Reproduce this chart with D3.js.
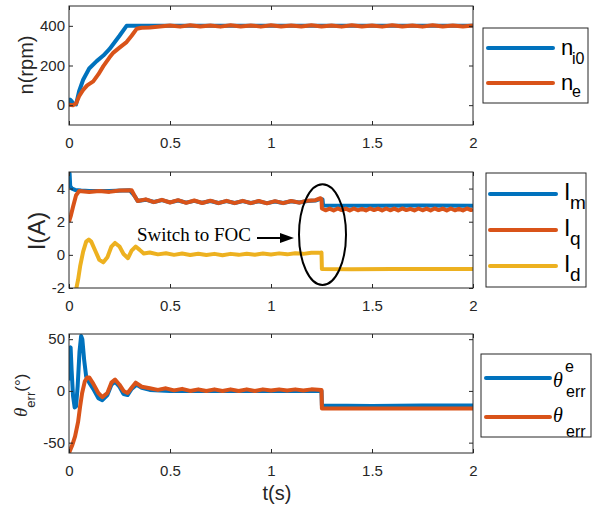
<!DOCTYPE html>
<meta charset="utf-8">
<style>
    html, body {
        margin: 0;
        padding: 0;
        background: #fff;
    }
    svg {
        display: block;
    }
</style>
<svg id="chart" width="605" height="508"></svg>
<script src="https://d3js.org/d3.v7.js"></script>
<script>
    // tick values
    const xTicks = [0, 0.5, 1, 1.5, 2];
    const speedTicks = [0, 200, 400];
    const currentTicks = [-2, 0, 2, 4];
    const angleTicks = [-50, 0, 50];

    // speed (rpm): [t, value]
    const nI0 = [[0,5],[0.006,28],[0.012,22],[0.02,8],[0.035,4],[0.05,70],[0.07,128],[0.1,185],[0.137,222],
        [0.17,250],[0.2,282],[0.25,350],[0.285,400],[2,400]];
    const nE = [[0,2],[0.02,0],[0.035,8],[0.05,45],[0.07,77],[0.09,100],[0.12,120],[0.145,155],[0.17,197],
        [0.2,240],[0.22,265],[0.25,290],[0.285,318],[0.31,350],[0.335,385],[0.36,390],[0.4,392],[0.45,397],
        [0.5,402],[0.55,396],[0.6,403],[0.65,397],[0.7,402],[0.75,396],[0.8,403],[0.85,397],[0.9,402],
        [0.95,396],[1.0,403],[1.05,397],[1.1,402],[1.15,397],[1.2,403],[1.25,397],[1.3,402],[1.35,396],
        [1.4,403],[1.45,397],[1.5,402],[1.55,396],[1.6,403],[1.65,397],[1.7,402],[1.75,396],[1.8,403],
        [1.85,397],[1.9,402],[1.95,397],[2.0,402]];

    // currents (A)
    const iM = [[0,5.0],[0.003,4.9],[0.006,4.15],[0.015,4.0],[0.03,3.92],[0.06,3.88],[0.1,3.85],[0.2,3.85],
        [0.3,3.9],[0.325,3.55],[0.34,3.25],[0.38,3.33],[0.42,3.19],[0.46,3.3],[0.5,3.17],[0.54,3.28],
        [0.58,3.15],[0.62,3.26],[0.66,3.14],[0.7,3.25],[0.74,3.13],[0.78,3.24],[0.82,3.13],[0.86,3.24],
        [0.9,3.13],[0.94,3.23],[0.98,3.12],[1.02,3.22],[1.06,3.13],[1.1,3.23],[1.14,3.16],[1.18,3.25],
        [1.22,3.28],[1.245,3.38],[1.255,3.35],[1.258,2.98],[1.5,2.97],[1.75,2.98],[2,2.97]];
    const iQ = [[0,2.0],[0.01,2.4],[0.02,2.9],[0.035,3.6],[0.05,3.85],[0.1,3.8],[0.15,3.85],[0.2,3.8],
        [0.25,3.88],[0.31,3.9],[0.325,3.55],[0.34,3.25],[0.38,3.35],[0.42,3.18],[0.46,3.32],[0.5,3.16],
        [0.54,3.3],[0.58,3.14],[0.62,3.28],[0.66,3.13],[0.7,3.27],[0.74,3.12],[0.78,3.26],[0.82,3.12],
        [0.86,3.26],[0.9,3.12],[0.94,3.25],[0.98,3.11],[1.02,3.24],[1.06,3.12],[1.1,3.25],[1.14,3.15],
        [1.18,3.27],[1.22,3.3],[1.245,3.42],[1.25,3.35],[1.252,2.8],[1.27,2.69],[1.29,2.79],[1.31,2.68],
        [1.33,2.8],[1.35,2.7],[1.37,2.79],[1.39,2.68],[1.41,2.8],[1.43,2.69],[1.45,2.78],[1.47,2.68],
        [1.49,2.8],[1.51,2.7],[1.53,2.79],[1.55,2.68],[1.57,2.8],[1.59,2.69],[1.61,2.79],[1.63,2.68],
        [1.65,2.8],[1.67,2.7],[1.69,2.78],[1.71,2.68],[1.73,2.8],[1.75,2.69],[1.77,2.79],[1.79,2.68],
        [1.81,2.8],[1.83,2.7],[1.85,2.79],[1.87,2.68],[1.89,2.8],[1.91,2.69],[1.93,2.78],[1.95,2.68],
        [1.97,2.8],[1.99,2.7],[2,2.75]];
    const iD = [[0.035,-2.1],[0.045,-1.5],[0.055,-0.7],[0.07,0.2],[0.085,0.8],[0.098,0.92],[0.11,0.8],
        [0.13,0.25],[0.15,-0.3],[0.17,-0.45],[0.19,-0.15],[0.21,0.5],[0.228,0.72],[0.25,0.5],[0.27,0.05],
        [0.292,-0.2],[0.31,0.25],[0.33,0.5],[0.35,0.3],[0.37,0.08],[0.4,0.14],[0.44,0.03],[0.48,0.1],
        [0.52,0.0],[0.56,0.08],[0.6,-0.01],[0.64,0.07],[0.68,-0.01],[0.72,0.06],[0.76,-0.02],[0.8,0.06],
        [0.84,0.0],[0.88,0.07],[0.92,0.01],[0.96,0.08],[1.0,0.02],[1.04,0.09],[1.08,0.03],[1.12,0.1],
        [1.16,0.06],[1.2,0.13],[1.24,0.12],[1.25,0.14],[1.252,-0.85],[1.4,-0.87],[1.6,-0.85],[1.8,-0.86],
        [2,-0.85]];

    // angle error (deg)
    const thEst = [[0,10],[0.003,40],[0.008,42],[0.013,20],[0.02,-5],[0.028,-16],[0.035,-15],[0.043,5],
        [0.052,38],[0.06,53],[0.066,50],[0.075,30],[0.085,14],[0.1,8],[0.12,2],[0.145,-7],[0.165,-9],
        [0.19,-4],[0.21,6],[0.228,9],[0.25,4],[0.27,-3],[0.29,-4],[0.31,2],[0.335,6],[0.36,3],[0.4,1],
        [0.5,0],[0.6,0],[0.7,0],[0.8,0],[0.9,0],[1.0,0],[1.1,0],[1.2,0],[1.25,0],[1.252,-14],[1.5,-14.5],
        [1.75,-14],[2,-14]];
    const thErr = [[0,-60],[0.015,-53],[0.03,-44],[0.045,-30],[0.055,-15],[0.065,-2],[0.078,9],[0.09,13],
        [0.1,13],[0.12,7],[0.145,-2],[0.165,-6],[0.19,-2],[0.21,8],[0.228,11],[0.25,6],[0.27,0],[0.29,-2],
        [0.31,3],[0.33,8],[0.36,4],[0.4,2.5],[0.44,1],[0.48,2.5],[0.52,0.5],[0.56,2],[0.6,0],[0.64,1.5],
        [0.68,0],[0.72,1.5],[0.76,0],[0.8,1.5],[0.84,0],[0.88,1.5],[0.92,0],[0.96,1.5],[1.0,0.5],
        [1.04,1.5],[1.08,0.5],[1.12,1.5],[1.16,0.5],[1.2,1.5],[1.25,1],[1.252,-17],[1.5,-17],[1.75,-17],
        [2,-17]];

    const blue = "#0072BD", orange = "#D95319", yellow = "#EDB120";
    const axisColor = "#262626";
    const sans = "'Liberation Sans', Arial, Helvetica, sans-serif";
    const serif = "'Liberation Serif', 'Times New Roman', serif";

    let svg = d3.select("#chart");
    let defs = svg.append("defs");

    let x = d3.scaleLinear([0, 2], [69, 473]);

    function drawPanel(name, y, yTicks, series) {
        let [y0, y1] = y.range();
        let g = svg.append("g");

        defs.append("clipPath").attr("id", "clip-" + name)
            .append("rect")
            .attr("x", x(0)).attr("y", y1)
            .attr("width", x(2) - x(0)).attr("height", y0 - y1);

        let line = d3.line().x(d => x(d[0])).y(d => y(d[1]));

        g.append("g")
            .attr("clip-path", "url(#clip-" + name + ")")
            .selectAll("path")
            .data(series)
            .join("path")
            .attr("d", s => line(s.values))
            .attr("fill", "none")
            .attr("stroke", s => s.color)
            .attr("stroke-width", 4)
            .attr("stroke-linejoin", "round");

        let fmt = d => String(d);

        // bottom + left with labels, top + right ticks only (MATLAB box)
        let axes = [
            [d3.axisBottom(x).tickValues(xTicks).tickFormat(fmt).tickPadding(12), `translate(0,${y0})`],
            [d3.axisTop(x).tickValues(xTicks).tickFormat(""), `translate(0,${y1})`],
            [d3.axisLeft(y).tickValues(yTicks).tickFormat(fmt).tickPadding(4), `translate(${x(0)},0)`],
            [d3.axisRight(y).tickValues(yTicks).tickFormat(""), `translate(${x(2)},0)`]
        ];
        axes.forEach(([ax, tr]) => {
            let a = g.append("g")
                .attr("transform", tr)
                .call(ax.tickSizeInner(-4).tickSizeOuter(0));
            a.select(".domain").remove();
            a.selectAll("line").attr("stroke", axisColor);
            a.selectAll("text")
                .attr("font-family", sans)
                .attr("font-size", 15)
                .attr("fill", axisColor);
        });

        g.append("rect")
            .attr("x", x(0)).attr("y", y1)
            .attr("width", x(2) - x(0)).attr("height", y0 - y1)
            .attr("fill", "none")
            .attr("stroke", axisColor)
            .attr("stroke-width", 1);
        return g;
    }

    function legendBox(bx, by, bw, bh, items) {
        let g = svg.append("g");
        g.append("rect")
            .attr("x", bx).attr("y", by).attr("width", bw).attr("height", bh)
            .attr("fill", "#fff").attr("stroke", axisColor).attr("stroke-width", 1);
        items.forEach(it => {
            g.append("line")
                .attr("x1", it.x1).attr("x2", it.x2)
                .attr("y1", it.y).attr("y2", it.y)
                .attr("stroke", it.color).attr("stroke-width", 4)
                .attr("stroke-linecap", "round");
            it.texts.forEach(t => {
                g.append("text")
                    .attr("x", t[0]).attr("y", t[1])
                    .attr("font-family", t[4] || sans)
                    .attr("font-style", t[5] || "normal")
                    .attr("font-size", t[3])
                    .attr("fill", "#000")
                    .text(t[2]);
            });
        });
    }

    // panel 1: speed
    let yTop = d3.scaleLinear([-100, 500], [125, 6]);
    drawPanel("speed", yTop, speedTicks, [
        {values: nI0, color: blue},
        {values: nE, color: orange}
    ]);
    svg.append("text")
        .attr("transform", "translate(33,65) rotate(-90)")
        .attr("text-anchor", "middle")
        .attr("font-family", sans).attr("font-size", 20).attr("fill", axisColor)
        .text("n(rpm)");
    legendBox(483, 28, 105, 75, [
        {x1: 488, x2: 553, y: 48, color: blue, texts: [[561, 55, "n", 22], [572, 64, "i0", 16]]},
        {x1: 488, x2: 553, y: 83, color: orange, texts: [[561, 90, "n", 22], [572, 97, "e", 16]]}
    ]);

    // panel 2: currents
    let yMid = d3.scaleLinear([-2, 5], [288, 172]);
    drawPanel("current", yMid, currentTicks, [
        {values: iM, color: blue},
        {values: iQ, color: orange},
        {values: iD, color: yellow}
    ]);
    svg.append("text")
        .attr("transform", "translate(45,231) rotate(-90)")
        .attr("text-anchor", "middle")
        .attr("font-family", sans).attr("font-size", 24).attr("fill", axisColor)
        .text("I(A)");
    legendBox(486, 173, 100, 114, [
        {x1: 490, x2: 556, y: 194, color: blue, texts: [[564, 200, "I", 23], [570, 209, "m", 19]]},
        {x1: 490, x2: 556, y: 230, color: orange, texts: [[564, 236, "I", 23], [570, 245, "q", 19]]},
        {x1: 490, x2: 556, y: 266, color: yellow, texts: [[564, 272, "I", 23], [570, 281, "d", 19]]}
    ]);

    // switch annotation
    svg.append("ellipse")
        .attr("cx", x(1.255)).attr("cy", yMid(1.22))
        .attr("rx", 23.5).attr("ry", 50.3)
        .attr("fill", "none").attr("stroke", "#000").attr("stroke-width", 2);
    svg.append("text")
        .attr("x", 137).attr("y", 241)
        .attr("font-family", serif).attr("font-size", 19).attr("fill", "#000")
        .text("Switch to FOC");
    svg.append("line")
        .attr("x1", 257).attr("x2", 283).attr("y1", 238).attr("y2", 238)
        .attr("stroke", "#000").attr("stroke-width", 2);
    svg.append("path")
        .attr("d", "M280,233L294,238L280,243Z")
        .attr("fill", "#000");

    // panel 3: angle error
    let yBot = d3.scaleLinear([-60, 55], [453, 334]);
    drawPanel("angle", yBot, angleTicks, [
        {values: thEst, color: blue},
        {values: thErr, color: orange}
    ]);
    let ylab = svg.append("text")
        .attr("transform", "translate(27,417) rotate(-90)")
        .attr("fill", axisColor);
    ylab.append("tspan").attr("font-family", serif).attr("font-style", "italic").attr("font-size", 19).text("θ");
    ylab.append("tspan").attr("font-family", sans).attr("font-size", 13).attr("dy", 8).text("err");
    ylab.append("tspan").attr("font-family", sans).attr("font-size", 17).attr("dy", -8).text("(°)");

    legendBox(481, 354, 110, 83, [
        {x1: 486, x2: 550, y: 378, color: blue,
            texts: [[553, 387, "θ", 20, serif, "italic"], [565, 372, "e", 16], [566, 397, "err", 16]]},
        {x1: 486, x2: 550, y: 417, color: orange,
            texts: [[553, 422, "θ", 20, serif, "italic"], [566, 437, "err", 16]]}
    ]);

    svg.append("text")
        .attr("x", 277).attr("y", 500)
        .attr("text-anchor", "middle")
        .attr("font-family", sans).attr("font-size", 20).attr("fill", axisColor)
        .text("t(s)");
</script>
